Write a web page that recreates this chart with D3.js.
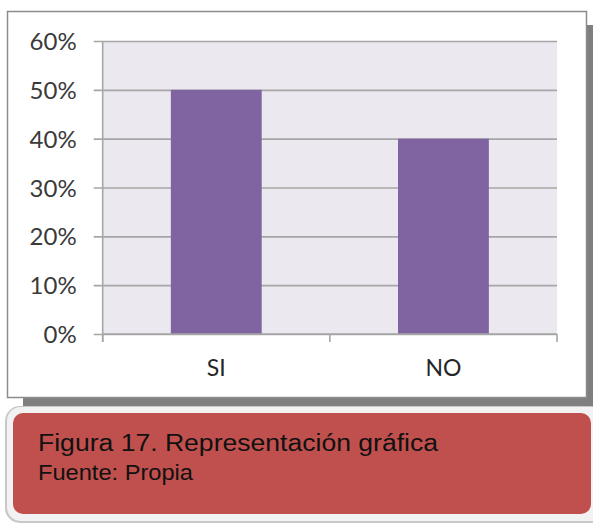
<!DOCTYPE html>
<html>
<head>
<meta charset="utf-8">
<script src="https://cdn.jsdelivr.net/npm/d3@7"></script>
<style>
  html, body { margin: 0; padding: 0; background: #fff; }
  svg { display: block; }
</style>
</head>
<body>
<div id="chart"></div>
<script>
const categories = ["SI", "NO"];
const values = [0.5, 0.4];
const yTicks = [0, 0.1, 0.2, 0.3, 0.4, 0.5, 0.6];
const captionTitle = "Figura 17. Representación gráfica";
const captionSource = "Fuente: Propia";

let width = 593;
let height = 524;
let plot = ({top: 41, bottom: 334, left: 102.7, right: 557});

let svg = d3.select("#chart").append("svg")
            .attr("width", width)
            .attr("height", height);

// frame with drop shadow
svg.append("rect")
   .attr("x", 23).attr("y", 25)
   .attr("width", 575).attr("height", 382)
   .attr("fill", "#7f7f7f");
svg.append("rect")
   .attr("x", 7.5).attr("y", 11.5)
   .attr("width", 579).attr("height", 386)
   .attr("fill", "#fff")
   .attr("stroke", "#8c8c8c")
   .attr("stroke-width", 1.5);

let x = d3.scaleBand()
          .domain(categories)
          .range([plot.left, plot.right])
          .paddingInner(0.6)
          .paddingOuter(0.3);

let y = d3.scaleLinear()
          .domain([0, 0.6])
          .range([plot.bottom, plot.top]);

// plot background
svg.append("rect")
   .attr("x", plot.left).attr("y", y(0.6))
   .attr("width", plot.right - plot.left)
   .attr("height", y(0) - y(0.6))
   .attr("fill", "#ebe9ef");

// y axis with gridlines
let yAxis = svg.append("g")
   .attr("transform", `translate(${plot.left},0)`)
   .call(d3.axisLeft(y)
           .tickValues(yTicks)
           .tickFormat(d3.format(".0%"))
           .tickSizeInner(-(plot.right - plot.left))
           .tickSizeOuter(0)
           .tickPadding(26));
yAxis.select(".domain").remove();
yAxis.selectAll(".tick line")
     .attr("x1", -9)
     .attr("stroke", "#a6a6a6")
     .attr("stroke-width", 1.6);
yAxis.selectAll(".tick text")
     .attr("fill", "#3a3a3a")
     .attr("font-family", "Lato, 'Open Sans', sans-serif")
     .attr("font-size", 24)
     .attr("dy", "0.36em");

// bars
svg.append("g")
   .selectAll("rect")
   .data(categories.map((c, i) => ({cat: c, val: values[i]})))
   .join("rect")
   .attr("x", d => x(d.cat))
   .attr("y", d => y(d.val))
   .attr("width", x.bandwidth())
   .attr("height", d => y(0) - y(d.val))
   .attr("fill", "#8064a2");

// axis lines
svg.append("line")
   .attr("x1", plot.left).attr("x2", plot.left)
   .attr("y1", y(0.6)).attr("y2", y(0) + 8)
   .attr("stroke", "#a6a6a6").attr("stroke-width", 1.6);
svg.append("line")
   .attr("x1", plot.left).attr("x2", plot.right)
   .attr("y1", y(0)).attr("y2", y(0))
   .attr("stroke", "#a6a6a6").attr("stroke-width", 1.6);

// category boundary ticks
let bounds = d3.range(categories.length + 1).map(i => plot.left + i * x.step());
svg.append("g")
   .selectAll("line")
   .data(bounds)
   .join("line")
   .attr("x1", d => d).attr("x2", d => d)
   .attr("y1", y(0)).attr("y2", y(0) + 8)
   .attr("stroke", "#a6a6a6").attr("stroke-width", 1.6);

// category labels
svg.append("g")
   .selectAll("text")
   .data(categories)
   .join("text")
   .attr("x", d => x(d) + x.bandwidth() / 2)
   .attr("y", 376)
   .attr("text-anchor", "middle")
   .attr("fill", "#262626")
   .attr("font-family", "Lato, 'Open Sans', sans-serif")
   .attr("font-size", 23)
   .text(d => d);

// caption box
svg.append("rect")
   .attr("x", 5).attr("y", 406)
   .attr("width", 600).attr("height", 117)
   .attr("rx", 15)
   .attr("fill", "#c8c8c8");
svg.append("rect")
   .attr("x", 7).attr("y", 407)
   .attr("width", 600).attr("height", 114)
   .attr("rx", 14)
   .attr("fill", "#f2f2f2");
svg.append("rect")
   .attr("x", 13).attr("y", 413)
   .attr("width", 578).attr("height", 101)
   .attr("rx", 10)
   .attr("fill", "#c0504d");

svg.append("text")
   .attr("x", 38).attr("y", 451)
   .attr("font-family", "'Liberation Sans', Arial, sans-serif")
   .attr("font-size", 23)
   .attr("fill", "#111")
   .attr("textLength", 400)
   .attr("lengthAdjust", "spacingAndGlyphs")
   .text(captionTitle);
svg.append("text")
   .attr("x", 38).attr("y", 480)
   .attr("font-family", "'Liberation Sans', Arial, sans-serif")
   .attr("font-size", 22)
   .attr("fill", "#111")
   .attr("textLength", 155)
   .attr("lengthAdjust", "spacingAndGlyphs")
   .text(captionSource);
</script>
</body>
</html>
